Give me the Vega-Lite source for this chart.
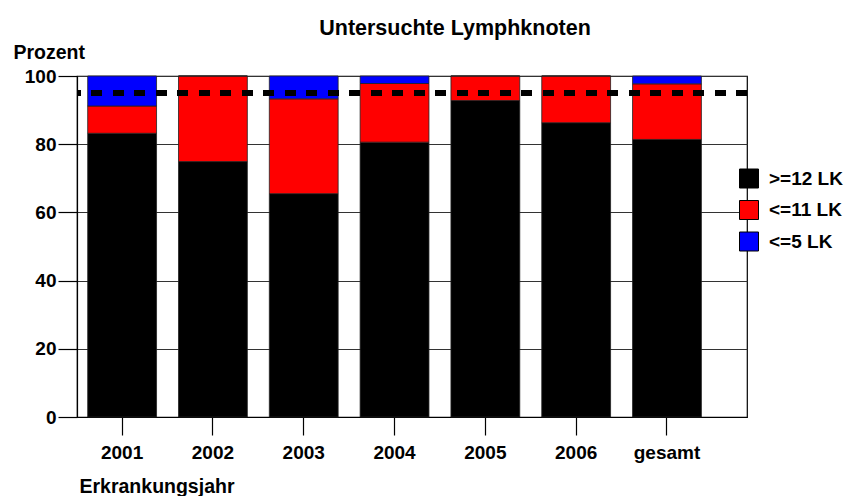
{
  "$schema": "https://vega.github.io/schema/vega-lite/v6.json",
  "width": 670,
  "height": 341,
  "autosize": {"type": "none"},
  "padding": {"left": 77, "top": 76, "right": 100, "bottom": 79},
  "background": "white",
  "title": {
    "text": "Untersuchte Lymphknoten",
    "font": "Liberation Sans, Arial, sans-serif",
    "fontSize": 21.5,
    "fontWeight": "bold",
    "color": "black",
    "anchor": "middle",
    "frame": "group",
    "baseline": "alphabetic",
    "offset": 9,
    "dx": 43,
    "dy": 23
  },
  "config": {
    "view": {"stroke": "black", "strokeWidth": 1.2},
    "font": "Liberation Sans, Arial, sans-serif",
    "axis": {
      "labelFont": "Liberation Sans, Arial, sans-serif",
      "titleFont": "Liberation Sans, Arial, sans-serif",
      "labelFontSize": 19,
      "labelFontWeight": "bold",
      "labelColor": "black",
      "titleFontSize": 19.5,
      "titleFontWeight": "bold",
      "titleColor": "black",
      "domainColor": "black",
      "domainWidth": 1.2,
      "tickColor": "black",
      "tickWidth": 1.2
    },
    "legend": {
      "labelFont": "Liberation Sans, Arial, sans-serif",
      "labelFontSize": 19,
      "labelFontWeight": "bold",
      "labelColor": "black"
    }
  },
  "data": {
    "values": [
      {"jahr": "2001", "gruppe": ">=12 LK", "rang": 1, "prozent": 83.2},
      {"jahr": "2001", "gruppe": "<=11 LK", "rang": 2, "prozent": 8.0},
      {"jahr": "2001", "gruppe": "<=5 LK", "rang": 3, "prozent": 8.8},
      {"jahr": "2002", "gruppe": ">=12 LK", "rang": 1, "prozent": 74.9},
      {"jahr": "2002", "gruppe": "<=11 LK", "rang": 2, "prozent": 25.1},
      {"jahr": "2002", "gruppe": "<=5 LK", "rang": 3, "prozent": 0},
      {"jahr": "2003", "gruppe": ">=12 LK", "rang": 1, "prozent": 65.5},
      {"jahr": "2003", "gruppe": "<=11 LK", "rang": 2, "prozent": 27.8},
      {"jahr": "2003", "gruppe": "<=5 LK", "rang": 3, "prozent": 6.7},
      {"jahr": "2004", "gruppe": ">=12 LK", "rang": 1, "prozent": 80.6},
      {"jahr": "2004", "gruppe": "<=11 LK", "rang": 2, "prozent": 17.2},
      {"jahr": "2004", "gruppe": "<=5 LK", "rang": 3, "prozent": 2.2},
      {"jahr": "2005", "gruppe": ">=12 LK", "rang": 1, "prozent": 92.8},
      {"jahr": "2005", "gruppe": "<=11 LK", "rang": 2, "prozent": 7.2},
      {"jahr": "2005", "gruppe": "<=5 LK", "rang": 3, "prozent": 0},
      {"jahr": "2006", "gruppe": ">=12 LK", "rang": 1, "prozent": 86.3},
      {"jahr": "2006", "gruppe": "<=11 LK", "rang": 2, "prozent": 13.7},
      {"jahr": "2006", "gruppe": "<=5 LK", "rang": 3, "prozent": 0},
      {"jahr": "gesamt", "gruppe": ">=12 LK", "rang": 1, "prozent": 81.4},
      {"jahr": "gesamt", "gruppe": "<=11 LK", "rang": 2, "prozent": 16.3},
      {"jahr": "gesamt", "gruppe": "<=5 LK", "rang": 3, "prozent": 2.3}
    ]
  },
  "layer": [
    {
      "mark": {"type": "bar", "stroke": "#222", "strokeWidth": 0.8},
      "encoding": {
        "x": {
          "field": "jahr",
          "type": "nominal",
          "sort": null,
          "scale": {"paddingInner": 0.242, "paddingOuter": 0.31, "align": 0.19},
          "axis": {
            "title": "Erkrankungsjahr",
            "labelAngle": 0,
            "tickSize": 18,
            "labelPadding": 8,
            "titleAnchor": "start",
            "titleAlign": "left",
            "titleBaseline": "alphabetic",
            "titleX": 2,
            "titleY": 75,
            "grid": false
          }
        },
        "y": {
          "field": "prozent",
          "type": "quantitative",
          "stack": "zero",
          "scale": {"domain": [0, 100], "nice": false},
          "axis": {
            "title": "Prozent",
            "titleAngle": 0,
            "titleAlign": "left",
            "titleBaseline": "alphabetic",
            "titleX": -64,
            "titleY": -18,
            "values": [0, 10, 20, 30, 40, 50, 60, 70, 80, 90, 100],
            "labelExpr": "datum.value % 20 === 0 ? datum.label : ''",
            "tickSize": {"condition": {"test": "datum.value % 20 === 0", "value": 19}, "value": 9},
            "labelPadding": 2,
            "grid": true,
            "gridColor": "#333",
            "gridWidth": 1
          }
        },
        "color": {
          "field": "gruppe",
          "type": "nominal",
          "scale": {
            "domain": [">=12 LK", "<=11 LK", "<=5 LK"],
            "range": ["#000000", "#ff0000", "#0000ff"]
          },
          "legend": {
            "title": null,
            "orient": "none",
            "legendX": 662,
            "legendY": 92.5,
            "symbolType": "square",
            "symbolSize": 361,
            "symbolStrokeColor": "black",
            "symbolStrokeWidth": 1,
            "symbolOpacity": 1,
            "labelOffset": 10,
            "rowPadding": 7.5,
            "padding": 0
          }
        },
        "order": {"field": "rang", "type": "quantitative", "sort": "ascending"}
      }
    },
    {
      "mark": {"type": "rule", "color": "black", "strokeWidth": 6, "strokeDash": [10.5, 11]},
      "encoding": {"y": {"datum": 95}}
    }
  ]
}
